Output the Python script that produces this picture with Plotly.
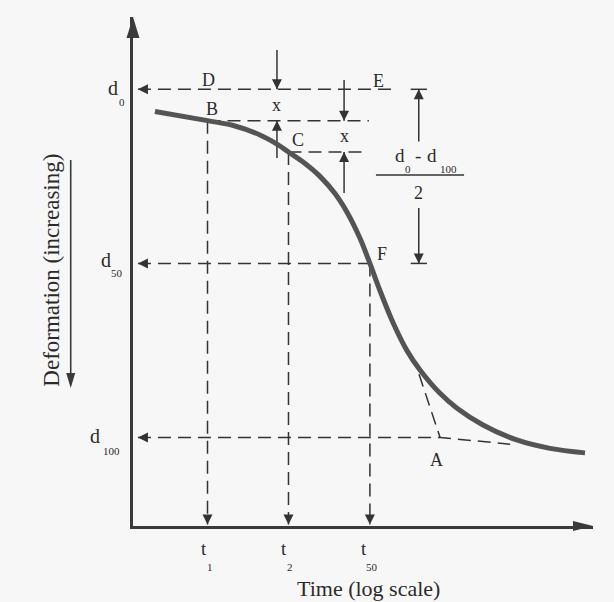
import numpy as np
import plotly.graph_objects as go

# Time-deformation curve of a consolidation test (time in minutes, log scale)
time_min = [0.1017, 0.25, 0.389, 0.614, 0.794, 1.0, 1.327, 1.715, 2.217,
            2.770, 3.401, 4.03, 4.71, 6.016, 7.564, 9.5, 13.38, 17.81,
            27.93, 49.73, 87.95, 160.2]
deformation = [6.4, 9.0, 10.4, 13.1, 15.4, 18.0, 21.3, 25.0, 29.95,
               35.8, 42.8, 50.0, 57.1, 67.2, 74.9, 80.6, 87.3, 91.5,
               96.4, 100.7, 103.1, 104.4]

# Casagrande construction: times and deformation levels
t1, t2, t50 = 0.25, 1.0, 4.03
d0, dB, dC, d100 = 0.0, 9.0, 18.0, 100.0
d50 = (d0 + d100) / 2
tA = 13.4                       # intersection of the two tangents
tangent_top = (9.34, 81.8)      # steep tangent through the inflection
tail_end = (44.4, 101.9)        # tangent to the secondary branch
t_x_left, t_x_right = 0.821, 2.59   # "x" dimension arrows
t_half = 9.3                    # (d0 - d100)/2 dimension arrows
t_bracket = (8.1, 10.7)         # end ticks of that dimension
frac_bar = (4.47, 20.2)

t_range_log = [-1.156, 2.264]
d_range = [125.4, -20.76]
t_tip_left = 0.076              # arrow tips against the deformation axis
d_tip_bottom = 125.0            # arrow tips against the time axis

INK = "#2b2b2b"
SERIF = "Liberation Serif, Times New Roman, serif"
DASH = dict(color="#333333", width=1.5, dash="13px,7px")
SOLID = dict(color="#333333", width=1.5)

fig = go.Figure()


def seg(xs, ys, line):
    fig.add_trace(go.Scatter(x=xs, y=ys, mode="lines", line=line,
                             hoverinfo="skip", showlegend=False))


# dashed construction lines
seg([t_tip_left, 5.9], [d0, d0], DASH)
seg([t_tip_left, t50], [d50, d50], DASH)
seg([t_tip_left, tA, tail_end[0]], [d100, d100, tail_end[1]], DASH)
seg([t1, 3.96], [dB, dB], DASH)
seg([t2, 3.7], [dC, dC], DASH)
seg([t1, t1], [dB, d_tip_bottom], DASH)
seg([t2, t2], [dC, d_tip_bottom], DASH)
seg([t50, t50], [d50, d_tip_bottom], DASH)
seg([tangent_top[0], tA], [tangent_top[1], d100], DASH)

# dimension arrows (solid)
seg([t_x_left] * 2, [-11.3, d0], SOLID)
seg([t_x_left] * 2, [19.7, dB], SOLID)
seg([t_x_right] * 2, [-2.7, dB], SOLID)
seg([t_x_right] * 2, [29.8, dC], SOLID)
seg([t_half] * 2, [15.0, d0], SOLID)
seg([t_half] * 2, [34.1, d50], SOLID)
seg(list(t_bracket), [d0, d0], SOLID)
seg(list(t_bracket), [d50, d50], SOLID)
seg(list(frac_bar), [24.6, 24.6], SOLID)

# the curve
fig.add_trace(go.Scatter(x=time_min, y=deformation, mode="lines",
                         line=dict(color="#545454", width=5, shape="spline",
                                   smoothing=1.0),
                         hoverinfo="skip", showlegend=False))

# arrow heads
tips = [
    (t_tip_left, d0, "arrow-left"), (t_tip_left, d50, "arrow-left"),
    (t_tip_left, d100, "arrow-left"),
    (t1, d_tip_bottom, "arrow-down"), (t2, d_tip_bottom, "arrow-down"),
    (t50, d_tip_bottom, "arrow-down"),
    (t_x_left, d0, "arrow-down"), (t_x_left, dB, "arrow-up"),
    (t_x_right, dB, "arrow-down"), (t_x_right, dC, "arrow-up"),
    (t_half, d0, "arrow-up"), (t_half, d50, "arrow-down"),
]
fig.add_trace(go.Scatter(
    x=[p[0] for p in tips], y=[p[1] for p in tips], mode="markers",
    marker=dict(symbol=[p[2] for p in tips], size=10, color="#333333",
                line=dict(width=0)),
    hoverinfo="skip", showlegend=False, cliponaxis=False))

ann = []


def text_item(text, x, y, xref, yref, size, xshift=0, yshift=0, **kw):
    ann.append(dict(text=text, x=x, y=y, xref=xref, yref=yref,
                    xanchor="center", yanchor="middle", showarrow=False,
                    xshift=xshift, yshift=yshift,
                    font=dict(family=SERIF, size=size, color=INK), **kw))


def label(text, t, d, size=18, xshift=0, yshift=0):
    text_item(text, np.log10(t), d, "x", "y", size, xshift, yshift)


label("D", t1, d0, xshift=1, yshift=9)
label("E", 4.63, d0, yshift=8)
label("B", t1, dB, xshift=4, yshift=12)
label("C", t2, dC, xshift=10, yshift=12)
label("F", t50, d50, xshift=12, yshift=9)
label("A", tA, d100, xshift=-4, yshift=-22)
label("x", t_x_left, (d0 + dB) / 2)
label("x", t_x_right, (dB + dC) / 2)

# (d0 - d100) / 2
label("d", t_half, 18.9, 19, xshift=-19)
label("-", t_half, 18.9, 19, xshift=-1)
label("d", t_half, 18.9, 19, xshift=13)
label("0", t_half, 22.9, 11, xshift=-11)
label("100", t_half, 22.9, 11, xshift=30)
label("2", t_half, 29.8, 18)


def d_label(sub, d, xs, ys, xs_sub, ys_sub):
    text_item("d", 0, d, "paper", "y", 20, xs, ys)
    text_item(sub, 0, d, "paper", "y", 11, xs_sub, ys_sub)


d_label("0", d0, -20, 1, -11, -13)
d_label("50", d50, -27, 3, -16, -10)
d_label("100", d100, -38, 2, -22, -13)


def t_label(sub, t, xs, xs_sub):
    text_item("t", np.log10(t), 0, "x", "paper", 19, xs, -22)
    text_item(sub, np.log10(t), 0, "x", "paper", 11, xs_sub, -41)


t_label("1", t1, -4, 2)
t_label("2", t2, -4, 2)
t_label("50", t50, -6, 2)

text_item("Time (log scale)", 0.511, -0.122, "paper", "paper", 22)
text_item("Deformation (increasing)", -0.1767, 0.503, "paper", "paper", 23,
          textangle=-90)

shapes = [
    # arrow head of the deformation axis
    dict(type="path", xref="paper", yref="paper",
         path="M -0.0141 0.9587 L 0 1 L 0.0141 0.9587 Z",
         fillcolor="#3a3a3a", line=dict(width=0)),
    # arrow head of the time axis
    dict(type="path", xref="paper", yref="paper",
         path="M 0.9565 -0.0098 L 1 0 L 0.9565 0.0098 Z",
         fillcolor="#3a3a3a", line=dict(width=0)),
    # "increasing" arrow beside the axis title
    dict(type="line", xref="paper", yref="paper", x0=-0.1354, x1=-0.1354,
         y0=0.719, y1=0.30, line=dict(color="#3a3a3a", width=1.6)),
    dict(type="path", xref="paper", yref="paper",
         path="M -0.1452 0.3006 L -0.1354 0.2711 L -0.1256 0.3006 Z",
         fillcolor="#3a3a3a", line=dict(width=0)),
]

axis_style = dict(showline=True, linewidth=2.5, linecolor="#3a3a3a",
                  showgrid=False, zeroline=False, showticklabels=False,
                  ticks="", automargin=False)

fig.update_layout(
    width=614, height=602,
    margin=dict(l=133, r=21, t=17, b=76),
    paper_bgcolor="#f7f7f7", plot_bgcolor="#f7f7f7",
    xaxis=dict(type="log", range=t_range_log, **axis_style),
    yaxis=dict(range=d_range, **axis_style),
    annotations=ann, shapes=shapes,
)

fig.write_html("out.html")
